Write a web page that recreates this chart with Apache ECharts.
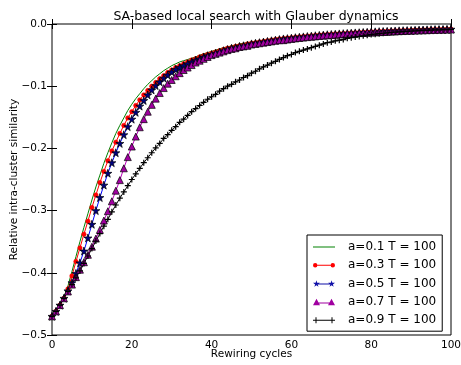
<!DOCTYPE html>
<html>
<head>
<meta charset="utf-8">
<script src="https://cdn.jsdelivr.net/npm/echarts@6/dist/echarts.min.js"></script>
<style>
html,body{margin:0;padding:0;background:#fff;}
#chart{width:461px;height:365px;}
</style>
</head>
<body>
<div id="chart"></div>
<script>
// ---- data ----
const xTicks = [0, 20, 40, 60, 80, 100];
const yTicks = [-0.5, -0.4, -0.3, -0.2, -0.1, 0.0];
const seriesNames = ['a=0.1 T = 100', 'a=0.3 T = 100', 'a=0.5 T = 100', 'a=0.7 T = 100', 'a=0.9 T = 100'];

// values at rewiring cycles 0..100
const a01 = [-0.470,-0.462,-0.452,-0.439,-0.421,-0.398,-0.374,-0.350,-0.327,-0.305,
 -0.283,-0.262,-0.243,-0.224,-0.207,-0.191,-0.176,-0.163,-0.151,-0.139,
 -0.129,-0.120,-0.112,-0.104,-0.097,-0.091,-0.085,-0.080,-0.075,-0.071,
 -0.067,-0.064,-0.061,-0.059,-0.057,-0.055,-0.053,-0.050,-0.048,-0.046,
 -0.044,-0.042,-0.040,-0.038,-0.037,-0.035,-0.034,-0.032,-0.031,-0.030,
 -0.029,-0.028,-0.027,-0.026,-0.025,-0.024,-0.023,-0.0226,-0.0218,-0.0211,
 -0.0205,-0.0198,-0.0192,-0.0186,-0.0181,-0.0175,-0.0170,-0.0165,-0.0161,-0.0156,
 -0.0152,-0.0148,-0.0144,-0.0140,-0.0137,-0.0133,-0.0130,-0.0126,-0.0123,-0.0120,
 -0.0117,-0.0115,-0.0112,-0.0109,-0.0107,-0.0104,-0.0102,-0.0100,-0.0097,-0.0095,
 -0.0093,-0.0091,-0.0089,-0.0087,-0.0086,-0.0084,-0.0082,-0.0080,-0.0079,-0.0077,
 -0.0076];

const a03 = [-0.470,-0.462,-0.452,-0.441,-0.426,-0.405,-0.382,-0.360,-0.338,-0.317,
 -0.295,-0.275,-0.255,-0.237,-0.220,-0.204,-0.190,-0.176,-0.163,-0.151,
 -0.141,-0.131,-0.122,-0.114,-0.107,-0.100,-0.094,-0.088,-0.083,-0.078,
 -0.074,-0.070,-0.067,-0.064,-0.061,-0.058,-0.056,-0.053,-0.051,-0.049,
 -0.047,-0.045,-0.043,-0.041,-0.039,-0.038,-0.036,-0.035,-0.034,-0.032,
 -0.031,-0.030,-0.029,-0.028,-0.027,-0.026,-0.025,-0.024,-0.0235,-0.0227,
 -0.0220,-0.0213,-0.0207,-0.0201,-0.0195,-0.0189,-0.0183,-0.0178,-0.0173,-0.0168,
 -0.0164,-0.0159,-0.0155,-0.0151,-0.0147,-0.0143,-0.0140,-0.0136,-0.0133,-0.0130,
 -0.0126,-0.0123,-0.0120,-0.0118,-0.0115,-0.0112,-0.0110,-0.0107,-0.0105,-0.0103,
 -0.0100,-0.0098,-0.0096,-0.0094,-0.0092,-0.0090,-0.0089,-0.0087,-0.0085,-0.0083,
 -0.0082];

const a05 = [-0.470,-0.462,-0.452,-0.441,-0.429,-0.416,-0.401,-0.384,-0.365,-0.344,
 -0.322,-0.300,-0.279,-0.259,-0.240,-0.223,-0.207,-0.192,-0.178,-0.165,
 -0.153,-0.142,-0.132,-0.123,-0.114,-0.106,-0.099,-0.093,-0.087,-0.082,
 -0.077,-0.073,-0.070,-0.067,-0.064,-0.061,-0.058,-0.056,-0.053,-0.051,
 -0.049,-0.047,-0.045,-0.043,-0.041,-0.039,-0.038,-0.036,-0.035,-0.034,
 -0.032,-0.031,-0.030,-0.029,-0.028,-0.027,-0.026,-0.025,-0.024,-0.0235,
 -0.0228,-0.0220,-0.0213,-0.0207,-0.0201,-0.0195,-0.0189,-0.0183,-0.0178,-0.0173,
 -0.0168,-0.0164,-0.0159,-0.0155,-0.0151,-0.0147,-0.0143,-0.0140,-0.0136,-0.0133,
 -0.0130,-0.0126,-0.0123,-0.0120,-0.0118,-0.0115,-0.0112,-0.0110,-0.0107,-0.0105,
 -0.0103,-0.0100,-0.0098,-0.0096,-0.0094,-0.0092,-0.0090,-0.0089,-0.0087,-0.0085,
 -0.0083];

const a07 = [-0.470,-0.462,-0.452,-0.441,-0.430,-0.419,-0.407,-0.395,-0.383,-0.371,
 -0.358,-0.345,-0.331,-0.316,-0.301,-0.285,-0.268,-0.251,-0.232,-0.214,
 -0.197,-0.181,-0.166,-0.153,-0.141,-0.130,-0.120,-0.111,-0.103,-0.096,
 -0.090,-0.084,-0.079,-0.074,-0.070,-0.066,-0.062,-0.059,-0.056,-0.053,
 -0.050,-0.048,-0.046,-0.044,-0.042,-0.040,-0.039,-0.037,-0.036,-0.035,
 -0.033,-0.032,-0.031,-0.030,-0.029,-0.028,-0.027,-0.026,-0.026,-0.025,
 -0.0240,-0.0232,-0.0225,-0.0218,-0.0211,-0.0205,-0.0199,-0.0193,-0.0187,-0.0182,
 -0.0177,-0.0172,-0.0167,-0.0163,-0.0158,-0.0154,-0.0150,-0.0146,-0.0143,-0.0139,
 -0.0136,-0.0133,-0.0130,-0.0127,-0.0124,-0.0121,-0.0118,-0.0115,-0.0113,-0.0110,
 -0.0108,-0.0106,-0.0103,-0.0101,-0.0099,-0.0097,-0.0095,-0.0093,-0.0091,-0.0090,
 -0.0088];

const a09 = [-0.470,-0.462,-0.452,-0.441,-0.430,-0.419,-0.408,-0.397,-0.385,-0.373,
 -0.361,-0.349,-0.337,-0.325,-0.314,-0.302,-0.291,-0.280,-0.270,-0.260,
 -0.250,-0.241,-0.232,-0.223,-0.215,-0.207,-0.199,-0.192,-0.184,-0.178,
 -0.171,-0.165,-0.158,-0.153,-0.147,-0.141,-0.136,-0.131,-0.126,-0.121,
 -0.117,-0.113,-0.108,-0.104,-0.100,-0.097,-0.093,-0.090,-0.086,-0.083,
 -0.079,-0.076,-0.072,-0.069,-0.066,-0.063,-0.060,-0.057,-0.054,-0.051,
 -0.049,-0.046,-0.044,-0.042,-0.040,-0.038,-0.036,-0.034,-0.032,-0.030,
 -0.029,-0.027,-0.026,-0.025,-0.023,-0.022,-0.021,-0.020,-0.019,-0.018,
 -0.017,-0.0163,-0.0156,-0.0149,-0.0143,-0.0137,-0.0132,-0.0127,-0.0122,-0.0118,
 -0.0114,-0.0110,-0.0107,-0.0104,-0.0101,-0.0098,-0.0096,-0.0093,-0.0091,-0.0089,
 -0.0087];

// ---- chart ----
const FONT = 'DejaVu Sans';
function pairs(vals) { return vals.map((v, i) => [i, v]); }

const starPath = 'path://M50,0 L61,35 L98,35 L68,57 L79,91 L50,70 L21,91 L32,57 L2,35 L39,35 Z';
const plusPath = 'path://M0,4 L10,4 L10,6 L0,6 Z M4,0 L6,0 L6,10 L4,10 Z';

// legend icons: line sample with a marker at each end
const iconLine = 'path://M0,0 L22,0 L22,1 L0,1 Z';
const iconDots = 'path://M0,2.2 A2.2,2.2 0 1 1 4.4,2.2 A2.2,2.2 0 1 1 0,2.2 Z M17.6,2.2 A2.2,2.2 0 1 1 22,2.2 A2.2,2.2 0 1 1 17.6,2.2 Z M2.2,1.7 L19.8,1.7 L19.8,2.7 L2.2,2.7 Z';
const iconStars = 'path://M3.5,0 L4.27,2.45 L6.86,2.45 L4.76,3.99 L5.53,6.37 L3.5,4.9 L1.47,6.37 L2.24,3.99 L0.14,2.45 L2.73,2.45 Z ' +
  'M18.5,0 L19.27,2.45 L21.86,2.45 L19.76,3.99 L20.53,6.37 L18.5,4.9 L16.47,6.37 L17.24,3.99 L15.14,2.45 L17.73,2.45 Z ' +
  'M3.5,3.1 L18.5,3.1 L18.5,4.1 L3.5,4.1 Z';
const iconTris = 'path://M0,6.5 L3.5,0 L7,6.5 Z M15,6.5 L18.5,0 L22,6.5 Z M3.5,3.9 L18.5,3.9 L18.5,4.9 L3.5,4.9 Z';
const iconPlus = 'path://M0,2.5 L6,2.5 L6,3.5 L0,3.5 Z M2.5,0 L3.5,0 L3.5,6 L2.5,6 Z M16,2.5 L22,2.5 L22,3.5 L16,3.5 Z M18.5,0 L19.5,0 L19.5,6 L18.5,6 Z M3,2.5 L19,2.5 L19,3.5 L3,3.5 Z';

function fmtY(v) {
  if (Math.abs(v) < 1e-9) return '0.0';
  return (v < 0 ? '\u2212' : '') + Math.abs(v).toFixed(1);
}

const chart = echarts.init(document.getElementById('chart'), null, {renderer: 'canvas'});

const tickStyle = {show: true, inside: true, length: 5, lineStyle: {color: '#000', width: 1}};
const baseX = {
  type: 'value', min: xTicks[0], max: xTicks[xTicks.length - 1], interval: 20,
  axisLine: {show: false}, splitLine: {show: false}, axisTick: tickStyle, nameMoveOverlap: false
};
const baseY = {
  type: 'value', min: yTicks[0], max: yTicks[yTicks.length - 1], interval: 0.1,
  axisLine: {show: false}, splitLine: {show: false}, axisTick: tickStyle, nameMoveOverlap: false
};

chart.setOption({
  animation: false,
  backgroundColor: '#fff',
  title: {
    text: 'SA-based local search with Glauber dynamics',
    left: 251, top: 5, textAlign: 'center',
    textStyle: {fontFamily: FONT, fontSize: 12.5, fontWeight: 'normal', color: '#000'}
  },
  grid: {
    left: 52, right: 10, top: 24, bottom: 30, containLabel: false, outerBoundsMode: 'none',
    show: true, borderColor: '#000', borderWidth: 1, backgroundColor: 'transparent'
  },
  legend: {
    orient: 'vertical', left: 307, top: 235,
    backgroundColor: '#fff', borderColor: '#000', borderWidth: 1, borderRadius: 0,
    padding: [5, 6, 4, 6], itemWidth: 22, itemHeight: 7, itemGap: 4.3,
    symbolKeepAspect: true,
    textStyle: {fontFamily: FONT, fontSize: 12, color: '#000', padding: [0, 0, 0, 8], lineHeight: 14},
    data: [
      {name: seriesNames[0], icon: iconLine, itemStyle: {color: '#008000', borderWidth: 0}},
      {name: seriesNames[1], icon: iconDots, itemStyle: {color: '#ff0000', borderWidth: 0}},
      {name: seriesNames[2], icon: iconStars, itemStyle: {color: '#1010a8', borderWidth: 0}},
      {name: seriesNames[3], icon: iconTris, itemStyle: {color: '#a000a0', borderWidth: 0}},
      {name: seriesNames[4], icon: iconPlus, itemStyle: {color: '#000000', borderWidth: 0}}
    ]
  },
  xAxis: [
    Object.assign({}, baseX, {
      position: 'bottom',
      axisLabel: {show: true, color: '#000', fontFamily: FONT, fontSize: 10.5, margin: 5},
      name: 'Rewiring cycles', nameLocation: 'middle', nameGap: 14,
      nameTextStyle: {fontFamily: FONT, fontSize: 10.5, color: '#000', verticalAlign: 'top'}
    }),
    Object.assign({}, baseX, {position: 'top', axisLabel: {show: false}})
  ],
  yAxis: [
    Object.assign({}, baseY, {
      position: 'left',
      axisLabel: {show: true, color: '#000', fontFamily: FONT, fontSize: 10.5, margin: 5, formatter: fmtY},
      name: 'Relative intra-cluster similarity', nameLocation: 'middle', nameGap: 32, nameRotate: 90,
      nameTextStyle: {fontFamily: FONT, fontSize: 10.5, color: '#000'}
    }),
    Object.assign({}, baseY, {position: 'right', axisLabel: {show: false}})
  ],
  series: [
    {
      name: seriesNames[0], type: 'line', data: pairs(a01), symbol: 'none',
      lineStyle: {color: '#008000', width: 1}, itemStyle: {color: '#008000'}
    },
    {
      name: seriesNames[1], type: 'line', data: pairs(a03), symbol: 'circle', symbolSize: 4.5, showAllSymbol: true,
      lineStyle: {color: '#ff0000', width: 1}, itemStyle: {color: '#ff0000', borderColor: '#ff0000', borderWidth: 0.5}
    },
    {
      name: seriesNames[2], type: 'line', data: pairs(a05), symbol: starPath, symbolSize: 8, showAllSymbol: true,
      lineStyle: {color: '#0000ff', width: 1}, itemStyle: {color: '#000080', borderColor: '#000', borderWidth: 0.7}
    },
    {
      name: seriesNames[3], type: 'line', data: pairs(a07), symbol: 'triangle', symbolSize: 7, showAllSymbol: true,
      lineStyle: {color: '#bf00bf', width: 1}, itemStyle: {color: '#a000a0', borderColor: '#000', borderWidth: 0.7}
    },
    {
      name: seriesNames[4], type: 'line', data: pairs(a09), symbol: plusPath, symbolSize: 6, showAllSymbol: true,
      lineStyle: {color: '#000000', width: 1}, itemStyle: {color: '#000000'}
    }
  ]
});
</script>
</body>
</html>
